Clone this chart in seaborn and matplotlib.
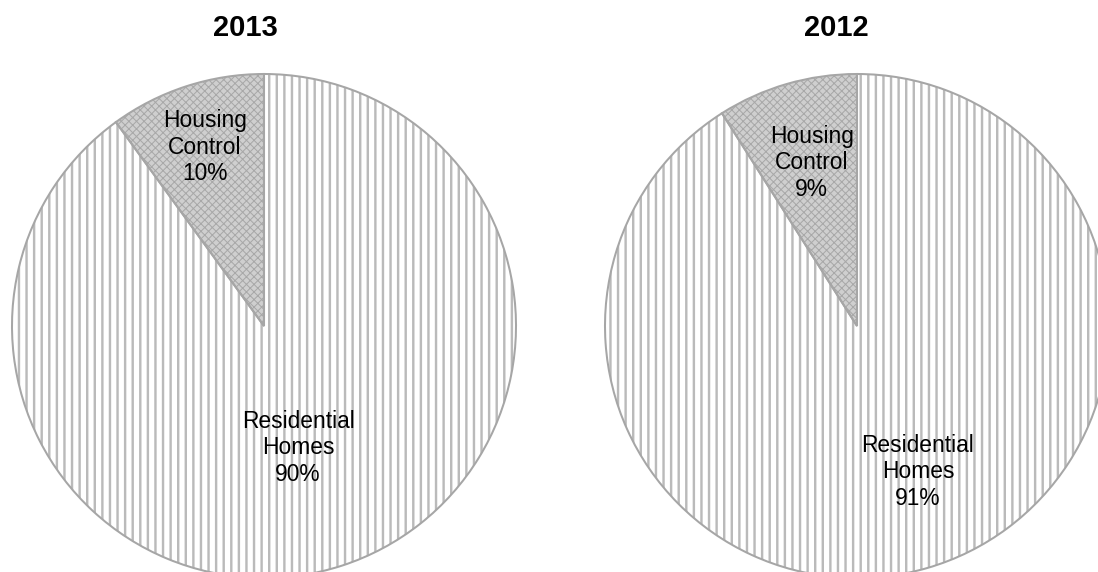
import matplotlib
matplotlib.use("Agg")
import matplotlib.pyplot as plt
import seaborn as sns

# Share of spending by category, per year
years = ["2013", "2012"]
categories = ["Residential\nHomes", "Housing\nControl"]
residential = [90, 91]
housing = [10, 9]

sns.set_theme(style="white")
plt.rcParams["font.family"] = ["Liberation Sans", "DejaVu Sans"]

DPI = 91
W, H = 1098, 572
fig = plt.figure(figsize=(W / DPI, H / DPI), dpi=DPI, facecolor="white")

R = 252                                  # pie radius in pixels
centers = [(264, 326), (857, 326)]       # pie centres in pixels (from top-left)
title_x = [245, 836]
label_xy = [[(0.135, -0.484), (-0.234, 0.71)],
            [(0.242, -0.579), (-0.18, 0.647)]]

line_grey, edge_grey, fill_grey = sns.color_palette(["#bababa", "#a6a6a6", "#cfcfcf"])
hatches = ["||", "xxxx"]
hatch_colors = [line_grey, "#a8a8a8"]
hatch_widths = [1.9, 0.8]
faces = ["white", fill_grey]

for i, year in enumerate(years):
    cx, cy = centers[i]
    ax = fig.add_axes([(cx - R) / W, (H - cy - R) / H, 2 * R / W, 2 * R / H])
    values = [residential[i], housing[i]]

    # hatched fills, one slice at a time so each keeps its own hatch width
    for k in range(len(values)):
        with plt.rc_context({"hatch.linewidth": hatch_widths[k]}):
            wedges, _ = ax.pie(values, startangle=90, counterclock=False, radius=1,
                               colors=faces, wedgeprops=dict(linewidth=0))
        for j, w in enumerate(wedges):
            if j != k:
                w.remove()
                continue
            w.set_hatch(hatches[k])
            w.set_edgecolor(hatch_colors[k])
            w.set_linewidth(0)

    # slice outlines
    ax.pie(values, startangle=90, counterclock=False, radius=1,
           wedgeprops=dict(fill=False, edgecolor=edge_grey, linewidth=1.6))

    for (tx, ty), cat, v in zip(label_xy[i], categories, values):
        ax.text(tx, ty, f"{cat}\n{v}%", ha="center", va="center",
                fontsize=18, color="black", linespacing=1.2)

    ax.set_xlim(-1, 1)
    ax.set_ylim(-1, 1)
    ax.set_aspect("equal")
    ax.axis("off")

    fig.text(title_x[i] / W, 1 - 28 / H, year, ha="center", va="center",
             fontsize=23, fontweight="bold", color="black")

fig.savefig("out.png", dpi=DPI, facecolor="white")
